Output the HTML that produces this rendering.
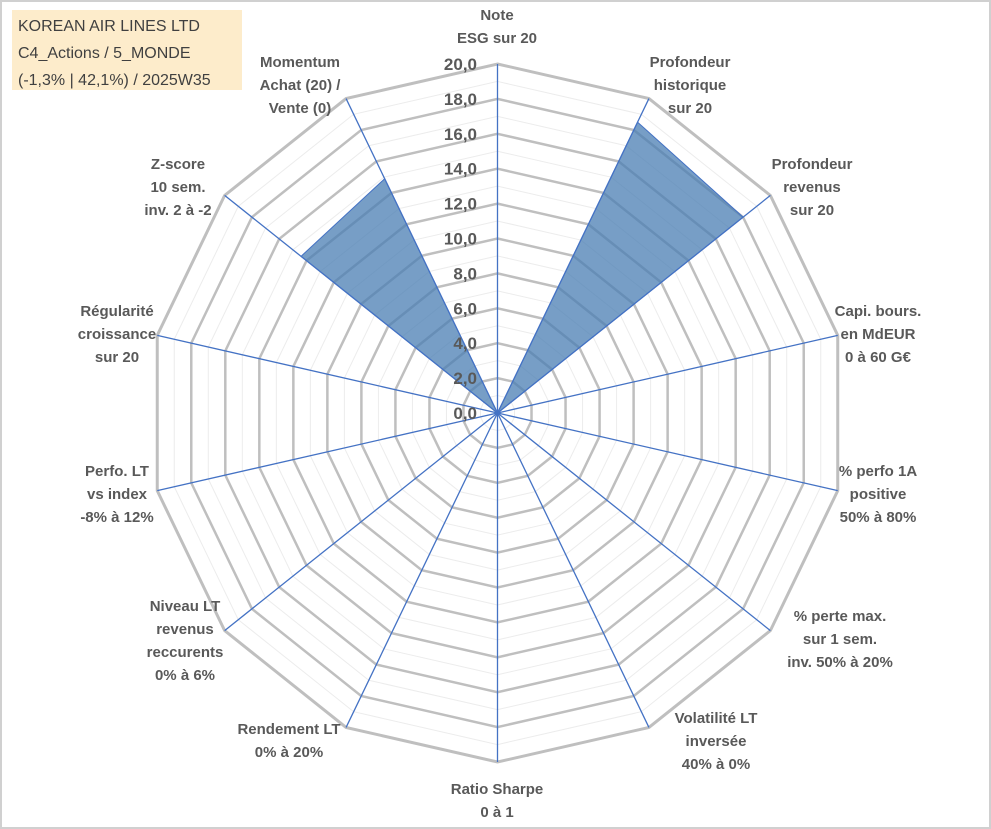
<!DOCTYPE html>
<html><head><meta charset="utf-8">
<style>
html,body{margin:0;padding:0;background:#fff;}
svg{display:block;font-family:"Liberation Sans",Arial,sans-serif;}
.lbl{font-size:15px;font-weight:bold;fill:#595959;text-anchor:middle;}
.tick{font-size:17px;font-weight:bold;fill:#595959;text-anchor:end;}
.title{font-size:16px;fill:#404040;}
</style></head>
<body>
<svg id="chart" width="991" height="829" viewBox="0 0 991 829">
<rect x="1" y="1" width="989" height="827" fill="#fff" stroke="#d0d0d0" stroke-width="2"/>
<g id="grid"></g>
<g id="series"></g>
<g id="ticks"></g>
<g id="labels"></g>
<g>
<rect x="12" y="10" width="230" height="80" fill="#fdeccb"/>
<text class="title" x="18" y="31">KOREAN AIR LINES LTD</text>
<text class="title" x="18" y="58">C4_Actions / 5_MONDE</text>
<text class="title" x="18" y="85">(-1,3% | 42,1%) / 2025W35</text>
</g>
</svg>
<script>
const categories = [
 ["Note","ESG sur 20"],
 ["Profondeur","historique","sur 20"],
 ["Profondeur","revenus","sur 20"],
 ["Capi. bours.","en MdEUR","0 à 60 G€"],
 ["% perfo 1A","positive","50% à 80%"],
 ["% perte max.","sur 1 sem.","inv. 50% à 20%"],
 ["Volatilité LT","inversée","40% à 0%"],
 ["Ratio Sharpe","0 à 1"],
 ["Rendement LT","0% à 20%"],
 ["Niveau LT","revenus","reccurents","0% à 6%"],
 ["Perfo. LT","vs index","-8% à 12%"],
 ["Régularité","croissance","sur 20"],
 ["Z-score","10 sem.","inv. 2 à -2"],
 ["Momentum","Achat (20) /","Vente (0)"]
];
const values = [0, 18.5, 18.0, 0, 0, 0, 0, 0, 0, 0, 0, 0, 14.4, 14.9];
const tickLabels = ["0,0","2,0","4,0","6,0","8,0","10,0","12,0","14,0","16,0","18,0","20,0"];
const maxVal = 20;

const NS = "http://www.w3.org/2000/svg";
const cx = 497.5, cy = 413, R = 349;
const N = categories.length;
const labelX = [497, 690, 812, 878, 878, 840, 716, 497, 289, 185, 117, 117, 178, 300];
const labelY = [14, 61, 163, 310, 470, 615, 717, 788, 728, 605, 470, 310, 163, 61];
function ang(i){ return i * 2 * Math.PI / N; }
function pt(i, v){ const r = v / maxVal * R; return [cx + r * Math.sin(ang(i)), cy - r * Math.cos(ang(i))]; }
function mk(tag, attrs, parent){ const e = document.createElementNS(NS, tag); for (const k in attrs) e.setAttribute(k, attrs[k]); parent.appendChild(e); return e; }

const grid = document.getElementById("grid");
for (let v = 1; v <= maxVal; v++) {
  const pts = [];
  for (let i = 0; i < N; i++) pts.push(pt(i, v).join(","));
  const major = v % 2 === 0;
  const p = mk("polygon", {points: pts.join(" "), fill: "none", stroke: major ? "#bfbfbf" : "#ececec", "stroke-width": major ? (v === maxVal ? 3 : 2.5) : 1}, grid);
  
  
}

const series = document.getElementById("series");
const sp = values.map((v, i) => pt(i, v).join(",")).join(" ");
const poly = mk("polygon", {points: sp, fill: "#4a7db3", "fill-opacity": 0.75, stroke: "#4472c4", "stroke-width": 1}, series);



for (let i = 0; i < N; i++) {
  const e = pt(i, maxVal);
  const l = mk("line", {x1: cx, y1: cy, x2: e[0], y2: e[1], stroke: "#4472c4", "stroke-width": 1.3}, series);
  
  
}

const ticks = document.getElementById("ticks");
tickLabels.forEach((t, k) => {
  const v = k * maxVal / (tickLabels.length - 1);
  const y = cy - v / maxVal * R;
  const tx = mk("text", {class: "tick", x: 477, y: y + 6}, ticks);
  tx.textContent = t;
  
  
});

const labels = document.getElementById("labels");
const lh = 23;
categories.forEach((lines, i) => {
  const g = mk("text", {class: "lbl"}, labels);
  
  
  lines.forEach((ln, j) => {
    const t = mk("tspan", {x: labelX[i], y: labelY[i] + j * lh + 6}, g);
    t.textContent = ln;
  });
});
</script>
</body></html>
